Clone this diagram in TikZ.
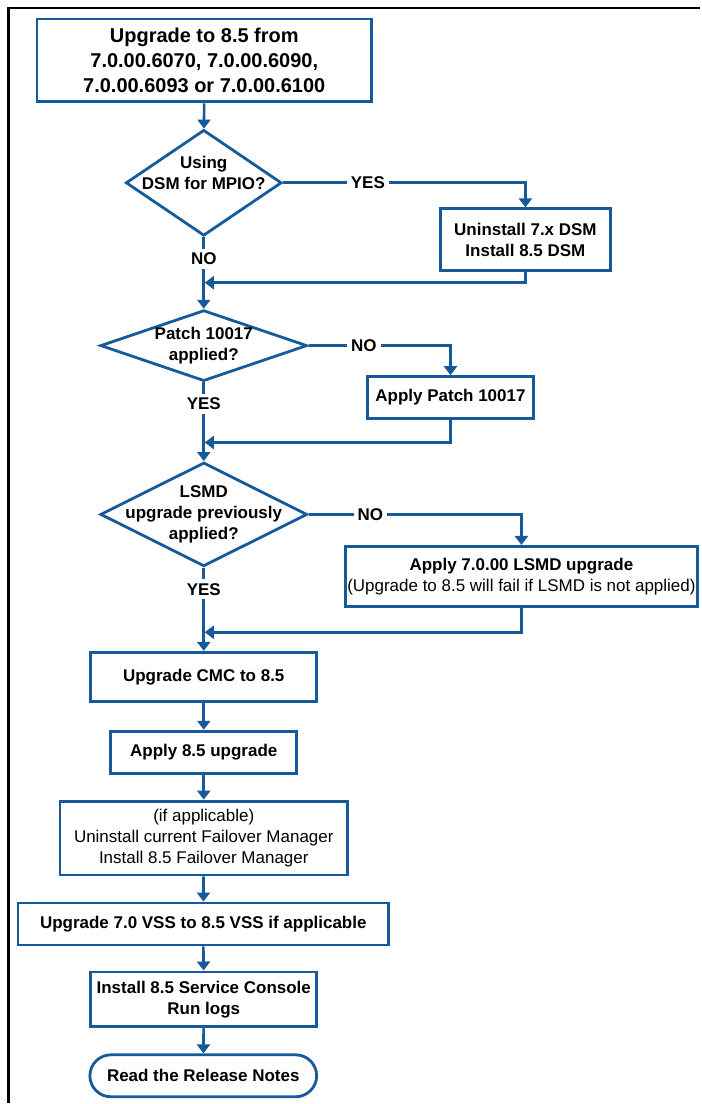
\documentclass[tikz,border=0pt]{standalone}
\usepackage{fontspec}
\setmainfont{Liberation Sans}
\usetikzlibrary{shapes.geometric,arrows.meta}

\definecolor{flowblue}{RGB}{22,90,155}

\tikzset{
  boxfont/.style={font=\fontsize{17}{21}\selectfont\bfseries},
  flowbox/.style={draw=flowblue, line width=2.8pt, fill=white, inner sep=0pt,
                  align=center, text=black, boxfont},
  decision/.style={diamond, draw=flowblue, line width=2.8pt, inner sep=0pt},
  qtext/.style={align=center, inner sep=0pt, boxfont},
  answer/.style={fill=white, inner sep=4pt, boxfont},
  flow/.style={draw=flowblue, line width=2.6pt, -{Triangle[width=13pt,length=9pt]}},
}

\begin{document}
\begin{tikzpicture}[x=1pt,y=-1pt]

% Canvas of the screenshot (1 unit = 1 pixel, y grows downwards)
\path (0,0) rectangle (701,1104);

% Frame: only the top and left edges are visible in the crop
\draw[black, line width=2.5pt] (8.5,1104) -- (8.5,8) -- (701,8);

% x position of the main column
\def\mainx{204}

% --- Start ---
\node[flowbox, font=\fontsize{20}{25}\selectfont\bfseries,
      minimum width=335, minimum height=83] (start) at (204.5,60.5)
  {Upgrade to 8.5 from\\7.0.00.6070, 7.0.00.6090,\\7.0.00.6093 or 7.0.00.6100};

% --- Question 1: DSM ---
\node[decision, minimum width=156, minimum height=106] (dsm) at (\mainx,183) {};
\node[qtext] (dsmtext) at ([yshift=10pt]dsm.center) {Using\\DSM for MPIO?};
\node[flowbox, minimum width=170, minimum height=62] (uninst) at (526,240)
  {Uninstall 7.x DSM\\Install 8.5 DSM};
\coordinate (join1) at (\mainx,283);

% --- Question 2: patch ---
\node[decision, minimum width=207, minimum height=71] (patch) at (\mainx,346) {};
\node[qtext] (patchtext) at (patch.center) {Patch 10017\\applied?};
\node[flowbox, minimum width=166, minimum height=42] (applypatch) at (451,398)
  {Apply Patch 10017};
\coordinate (join2) at (\mainx,443);

% --- Question 3: LSMD ---
\node[decision, minimum width=207, minimum height=104] (lsmd) at (\mainx,515) {};
\node[qtext] (lsmdtext) at (lsmd.center) {LSMD\\upgrade previously\\applied?};
\node[flowbox, minimum width=352, minimum height=60] (applylsmd) at (522,577)
  {Apply 7.0.00 LSMD upgrade\\
   {\mdseries (Upgrade to 8.5 will fail if LSMD is not applied)}};
\coordinate (join3) at (\mainx,633);

% --- Upgrade steps ---
\node[flowbox, minimum width=226, minimum height=49] (cmc) at (\mainx,677.5)
  {Upgrade CMC to 8.5};
\node[flowbox, minimum width=186, minimum height=42] (apply85) at (\mainx,753)
  {Apply 8.5 upgrade};
\node[flowbox, font=\fontsize{17}{21}\selectfont\mdseries,
      minimum width=288, minimum height=74] (failover) at (\mainx,839)
  {(if applicable)\\Uninstall current Failover Manager\\Install 8.5 Failover Manager};
\node[flowbox, minimum width=371, minimum height=42] (vss) at (203.5,925)
  {Upgrade 7.0 VSS to 8.5 VSS if applicable};
\node[flowbox, minimum width=226, minimum height=55] (console) at (\mainx,1000.5)
  {Install 8.5 Service Console\\Run logs};
\node[flowbox, rounded corners=21pt, minimum width=227, minimum height=42] (notes)
  at (203.5,1077) {Read the Release Notes};

% --- Connectors ---
\draw[flow] (start) -- (dsm);
\draw[flow] (dsm.east) -- node[answer, pos=0.35] {YES} (dsm.east -| uninst) -- (uninst.north);
\draw[flow] (dsm.south) -- node[answer, pos=0.30] {NO} (patch.north);
\draw[flow, shorten >=1pt] (uninst.south) |- (join1);

\draw[flow] (patch.east) -- node[answer, pos=0.39] {NO} (patch.east -| applypatch) -- (applypatch.north);
\draw[flow] (patch.south) -- node[answer, pos=0.27] {YES} (lsmd.north);
\draw[flow, shorten >=1pt] (applypatch.south) |- (join2);

\draw[flow] (lsmd.east) -- node[answer, pos=0.29] {NO} (lsmd.east -| applylsmd) -- (applylsmd.north);
\draw[flow] (lsmd.south) -- node[answer, pos=0.26] {YES} (cmc.north);
\draw[flow, shorten >=1pt] (applylsmd.south) |- (join3);

\draw[flow] (cmc) -- (apply85);
\draw[flow] (apply85) -- (failover);
\draw[flow] (failover) -- (vss);
\draw[flow] (vss) -- (console);
\draw[flow] (console) -- (notes);

\end{tikzpicture}
\end{document}
